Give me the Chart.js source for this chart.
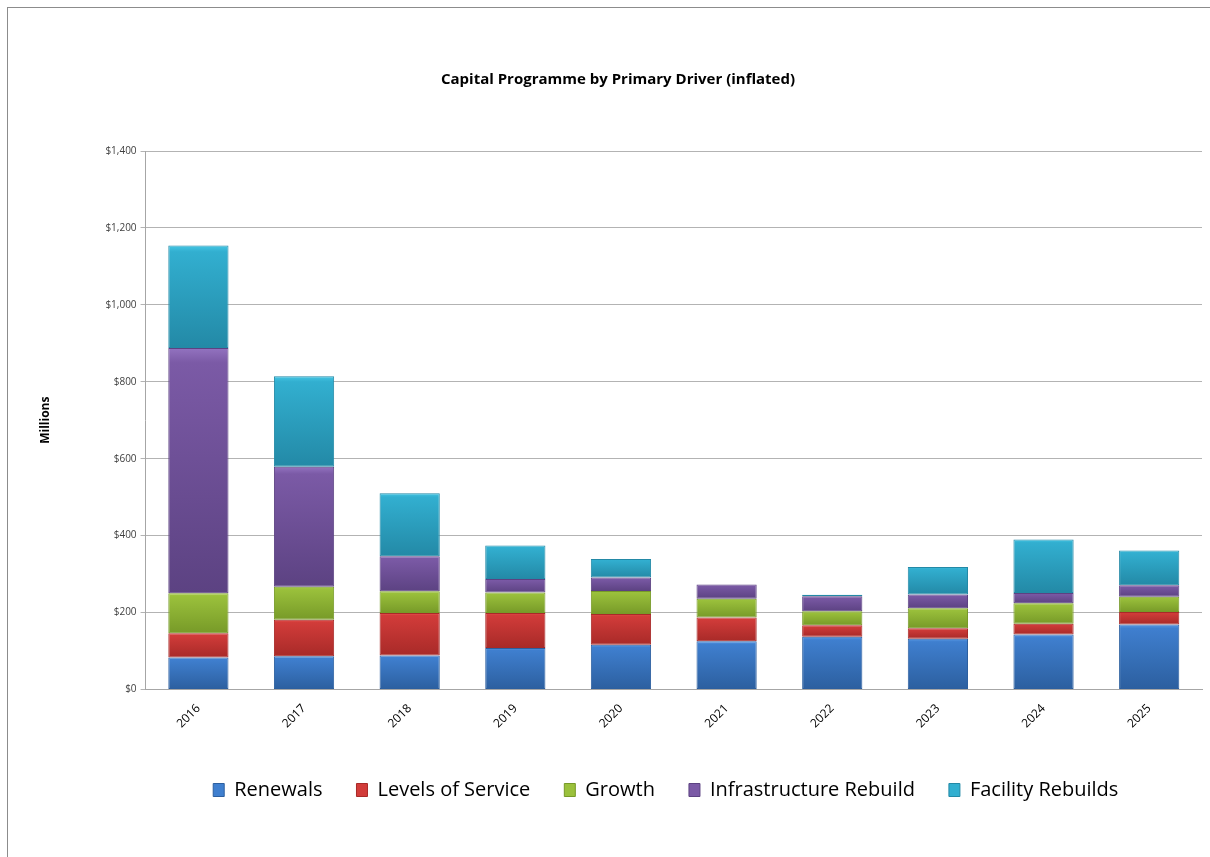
<!DOCTYPE html>
<html>
<head>
<meta charset="utf-8">
<script src="https://cdn.jsdelivr.net/npm/chart.js@4.4.1/dist/chart.umd.min.js"></script>
<style>
  html, body { margin: 0; padding: 0; background: #fff; }
  #wrap { position: relative; width: 1210px; height: 857px; }
  #frame { position: absolute; left: 7px; top: 7px; right: -2px; bottom: -2px; border-left: 1px solid #8c8c8c; border-top: 1px solid #8c8c8c; }
  canvas { position: absolute; left: 0; top: 0; }
</style>
</head>
<body>
<div id="wrap">
  <div id="frame"></div>
  <canvas id="capChart" width="1210" height="857"></canvas>
</div>
<script>
// ── Data (millions) ──
const years = ['2016', '2017', '2018', '2019', '2020', '2021', '2022', '2023', '2024', '2025'];
const renewals       = [83, 86, 88, 108, 116, 125, 137, 132, 143, 169];
const levelsOfService = [63, 95, 111, 91, 80, 62, 30, 27, 28, 32];
const growth         = [104, 86, 56, 53, 60, 49, 36, 52, 53, 40];
const infraRebuild   = [638, 312, 91, 35, 35, 37, 39, 36, 27, 30];
const facilityRebuilds = [266, 235, 164, 87, 48, 0, 4, 71, 139, 90];

const SERIES = [
  { label: 'Renewals', data: renewals, light: '#5a9be6', mid: '#3f7fcf', dark: '#2c5f9f' },
  { label: 'Levels of Service', data: levelsOfService, light: '#ec5a56', mid: '#d23c3a', dark: '#a82a28' },
  { label: 'Growth', data: growth, light: '#b2d655', mid: '#9bc13c', dark: '#779a28' },
  { label: 'Infrastructure Rebuild', data: infraRebuild, light: '#9373c0', mid: '#7b5aa6', dark: '#5c4282' },
  { label: 'Facility Rebuilds', data: facilityRebuilds, light: '#45c6e4', mid: '#32afd0', dark: '#2389a6' }
];

const FONT = '"Open Sans", "Liberation Sans", sans-serif';

// vertical shading per segment, using the y scale for the segment's ends
function segmentFill(si) {
  return ctx => {
    const s = SERIES[si];
    const chart = ctx.chart;
    const y = chart.scales && chart.scales.y;
    if (ctx.type !== 'data' || !y) return s.mid;
    let base = 0;
    for (let k = 0; k < si; k++) base += SERIES[k].data[ctx.dataIndex];
    const top = y.getPixelForValue(base + s.data[ctx.dataIndex]);
    const bot = y.getPixelForValue(base);
    if (!isFinite(top) || !isFinite(bot) || top === bot) return s.mid;
    const g = chart.ctx.createLinearGradient(0, top, 0, bot);
    g.addColorStop(0, s.light);
    g.addColorStop(0.06, s.mid);
    g.addColorStop(1, s.dark);
    return g;
  };
}

// centre the legend under the plot area rather than the whole canvas
const legendUnderPlot = {
  id: 'legendUnderPlot',
  afterLayout(chart) {
    const lg = chart.legend, area = chart.chartArea;
    if (!lg || !area) return;
    const shift = (area.left + area.right) / 2 - 8 - (lg.left + lg.right) / 2;
    lg.left += shift;
    lg.right += shift;
  }
};

new Chart(document.getElementById('capChart'), {
  type: 'bar',
  data: {
    labels: years,
    datasets: SERIES.map((s, i) => ({
      label: s.label,
      data: s.data,
      backgroundColor: segmentFill(i),
      borderColor: s.dark,
      borderWidth: 1,
      borderSkipped: false,
      barPercentage: 0.57,
      categoryPercentage: 1
    }))
  },
  plugins: [legendUnderPlot],
  options: {
    responsive: false,
    animation: false,
    layout: { padding: { left: 34, right: 8, top: 8, bottom: 47 } },
    plugins: {
      title: {
        display: true,
        text: 'Capital Programme by Primary Driver (inflated)',
        color: '#000',
        font: { family: FONT, size: 15, weight: 'bold' },
        padding: { top: 63, bottom: 62 }
      },
      legend: {
        position: 'bottom',
        labels: {
          color: '#000',
          font: { family: FONT, size: 20 },
          boxWidth: 11,
          boxHeight: 13,
          padding: 34,
          generateLabels: chart => SERIES.map((s, i) => ({
            text: s.label,
            fillStyle: s.mid,
            strokeStyle: s.dark,
            lineWidth: 1,
            datasetIndex: i
          }))
        }
      },
      tooltip: { enabled: false }
    },
    scales: {
      x: {
        stacked: true,
        grid: { display: false },
        border: { color: '#a6a6a6' },
        ticks: { color: '#000', font: { family: FONT, size: 12 }, maxRotation: 45, minRotation: 45, padding: 4 },
        afterFit: scale => { scale.height += 11; }
      },
      y: {
        stacked: true,
        min: 0,
        max: 1400,
        title: {
          display: true,
          text: 'Millions',
          color: '#000',
          font: { family: FONT, size: 12, weight: 'bold' },
          padding: { bottom: 49 }
        },
        border: { color: '#a6a6a6' },
        grid: { color: '#b3b3b3', tickLength: 5 },
        ticks: {
          stepSize: 200,
          color: '#404040',
          font: { family: FONT, size: 10 },
          padding: 4,
          callback: v => '$' + v.toLocaleString('en-US')
        }
      }
    }
  }
});
</script>
</body>
</html>
